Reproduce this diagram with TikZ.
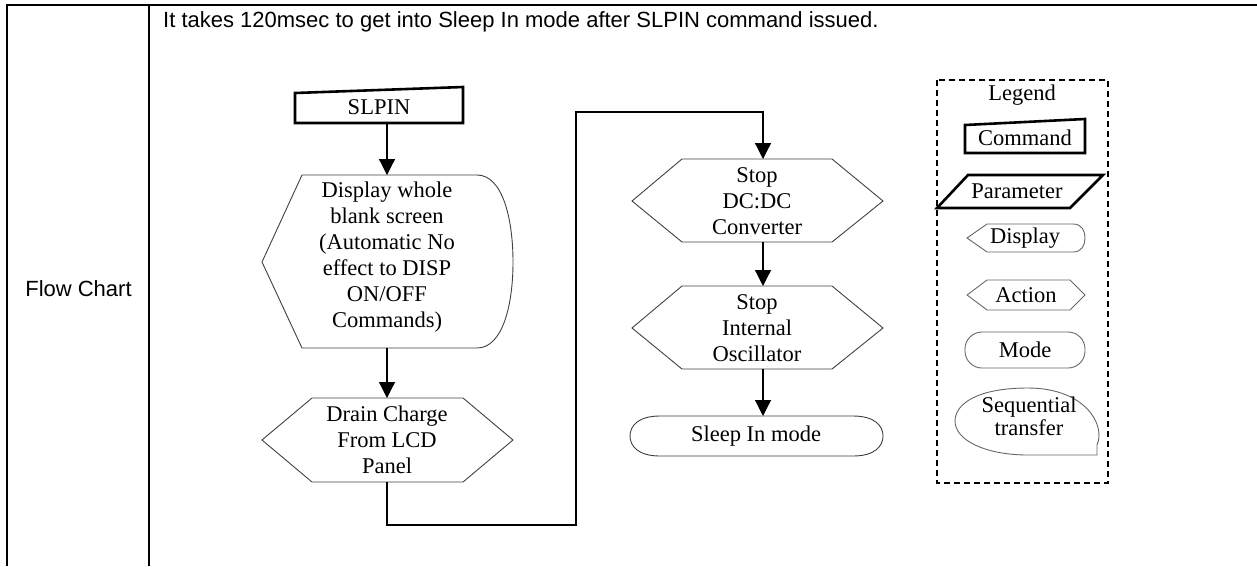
\documentclass[tikz,border=0pt]{standalone}
\usepackage{fontspec}
\setmainfont{Liberation Serif}
\newfontfamily\arialfont{Liberation Sans}
\usetikzlibrary{arrows.meta}
\begin{document}
\begin{tikzpicture}[x=1pt,y=-1pt,
  tblline/.style={line width=2.2pt,black},
  flowshape/.style={draw=black!75,line width=0.9pt},
  legshape/.style={draw=black!60,line width=0.9pt},
  cmdshape/.style={draw=black,line width=2.6pt},
  conn/.style={line width=1.2pt,-{Triangle[length=16pt,width=16pt]}},
  plainconn/.style={line width=1.2pt},
  lbl/.style={font=\fontsize{22.5}{26}\selectfont,align=center,inner sep=0pt},
  sanslbl/.style={font=\arialfont\fontsize{22}{26}\selectfont,inner sep=0pt}]
\useasboundingbox (0,0) rectangle (1257,566);
% table
\draw[tblline] (7,566) -- (7,5) -- (1257,5);
\draw[line width=1.3pt] (149,5) -- (149,566);
\node[sanslbl,anchor=base] (fc) at (78.5,296) {Flow Chart};
\node[sanslbl,anchor=base west] (note) at (163,27) {It takes 120msec to get into Sleep In mode after SLPIN command issued.};
% SLPIN
\draw[cmdshape] (295,93) -- (463,87) -- (463,123) -- (295,123) -- cycle;
\node[lbl] (slpin) at (379,107) {SLPIN};
\coordinate (slpinB) at (387,123);
% Display
\draw[flowshape] (302,175) -- (477,175) .. controls (503,175) and (513,220) .. (513,262) .. controls (513,304) and (503,348) .. (477,348) -- (302,348) -- (262,262) -- cycle;
\node[lbl] (disp) at (387,257) {Display whole\\blank screen\\(Automatic No\\effect to DISP\\ON/OFF\\Commands)};
\coordinate (dispT) at (387,175);
\coordinate (dispB) at (387,348);
% Drain
\draw[flowshape] (312,398) -- (463,398) -- (513,440) -- (463,482) -- (312,482) -- (262,440) -- cycle;
\node[lbl] (drain) at (387,440) {Drain Charge\\From LCD\\Panel};
\coordinate (drainT) at (387,398);
\coordinate (drainB) at (387,482);
% Stop DC:DC
\draw[flowshape] (682,159) -- (832,159) -- (883,201) -- (832,242) -- (682,242) -- (632,201) -- cycle;
\node[lbl] (dc) at (757,201) {Stop\\DC:DC\\Converter};
\coordinate (dcT) at (763,159);
\coordinate (dcB) at (763,242);
% Stop Oscillator
\draw[flowshape] (682,286) -- (832,286) -- (883,328) -- (832,369) -- (682,369) -- (632,328) -- cycle;
\node[lbl] (osc) at (757,328) {Stop\\Internal\\Oscillator};
\coordinate (oscT) at (763,286);
\coordinate (oscB) at (763,369);
% Sleep In mode
\draw[flowshape] (660,416) -- (853,416) .. controls (875,416) and (883,426) .. (883,436) .. controls (883,446) and (875,456) .. (853,456) -- (660,456) .. controls (638,456) and (630,446) .. (630,436) .. controls (630,426) and (638,416) .. (660,416) -- cycle;
\node[lbl] (sleep) at (756,436) {Sleep In mode};
\coordinate (sleepT) at (763,416);
% connectors
\coordinate (bend1) at (576,525);
\coordinate (bend2) at (576,112);
\draw[conn] (slpinB) -- (dispT);
\draw[conn] (dispB) -- (drainT);
\draw[conn] (drainB) |- (bend1) -- (bend2) -| (dcT);
\draw[conn] (dcB) -- (oscT);
\draw[conn] (oscB) -- (sleepT);
% Legend
\draw[line width=1.1pt,dash pattern=on 6pt off 4pt] (937,80) rectangle (1108,483);
\node[lbl] (leg) at (1022,95) {Legend};
\draw[cmdshape] (965,125) -- (1085,119) -- (1085,153) -- (965,153) -- cycle;
\node[lbl] (lcmd) at (1025,138) {Command};
\draw[cmdshape] (937,208) -- (968,175) -- (1103,175) -- (1070,208) -- cycle;
\node[lbl] (lpar) at (1017,191) {Parameter};
\draw[legshape] (987,224) -- (1073,224) .. controls (1082,224) and (1085,231) .. (1085,238) .. controls (1085,245) and (1082,252) .. (1073,252) -- (987,252) -- (967,238) -- cycle;
\node[lbl] (ldisp) at (1025,238) {Display};
\draw[legshape] (987,280) -- (1070,280) -- (1085,295) -- (1070,310) -- (987,310) -- (967,295) -- cycle;
\node[lbl] (lact) at (1026,295) {Action};
\draw[legshape,rounded corners=17pt] (965,332) rectangle (1085,368);
\node[lbl] (lmode) at (1025,350) {Mode};
\draw[legshape] (1097,445) .. controls (1106,425) and (1085,388) .. (1028,388) .. controls (975,388) and (955,405) .. (955,421) .. controls (955,440) and (985,455) .. (1028,455) -- (1097,455) -- cycle;
\node[lbl] (lseq) at (1029,416) {Sequential\\[-3pt]transfer};
\end{tikzpicture}
\end{document}
